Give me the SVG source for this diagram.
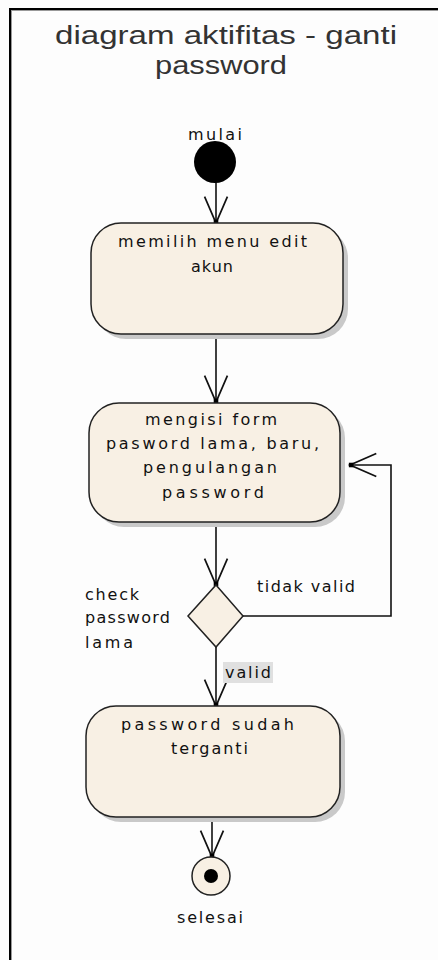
<svg xmlns="http://www.w3.org/2000/svg" width="438" height="960" viewBox="0 0 438 960">
<style>
.title{font-family:"Liberation Sans",Arial,sans-serif;font-size:25px;fill:#333;text-anchor:start}
.t{font-family:"DejaVu Sans","Liberation Sans",sans-serif;font-size:16px;fill:#111}
.box{fill:#f8f0e4;stroke:#222;stroke-width:1.5}
.shadow{fill:#c9c9c9}
.edge{fill:none;stroke:#111;stroke-width:1.6}
</style>
<defs>
<marker id="arr" markerUnits="userSpaceOnUse" markerWidth="40" markerHeight="40" refX="0" refY="0" viewBox="-30 -15 35 30" orient="auto" overflow="visible">
<path d="M-23,-10 L0,0 L-23,10" fill="none" stroke="#111" stroke-width="1.5"/>
<rect x="-3" y="-2" width="4" height="4" fill="#000"/>
</marker>
</defs>
<rect width="438" height="960" fill="#fdfdfd"/>
<g id="frame">
<line x1="9" y1="9" x2="438" y2="9" stroke="#000" stroke-width="2"/>
<line x1="9" y1="10.5" x2="438" y2="10.5" stroke="#999" stroke-width="1"/>
<line x1="10" y1="8" x2="10" y2="960" stroke="#000" stroke-width="2"/>
<line x1="11.5" y1="10" x2="11.5" y2="960" stroke="#999" stroke-width="1"/>
</g>
<g id="title">
<text class="title" x="55" y="44" textLength="342" lengthAdjust="spacingAndGlyphs">diagram aktifitas - ganti</text>
<text class="title" x="155" y="74" textLength="132" lengthAdjust="spacingAndGlyphs">password</text>
</g>
<g id="connectors">
<path class="edge" d="M216,182 V223" marker-end="url(#arr)"/>
<path class="edge" d="M216,334 V402" marker-end="url(#arr)"/>
<path class="edge" d="M216,522 V585" marker-end="url(#arr)"/>
<path class="edge" d="M243,616 H391 V465 H350" marker-end="url(#arr)"/>
<path class="edge" d="M216,647 V706" marker-end="url(#arr)"/>
<path class="edge" d="M212,817 V857" marker-end="url(#arr)"/>
<rect x="223" y="662" width="50" height="21" fill="#e0e0e0"/>
<text class="t" x="225" y="678" textLength="46" lengthAdjust="spacing">valid</text>
<text class="t" x="257" y="592" textLength="98" lengthAdjust="spacing">tidak valid</text>
</g>
<g id="mulai">
<text class="t" x="188" y="140" textLength="54" lengthAdjust="spacing">mulai</text>
<circle cx="215" cy="162" r="21" fill="#000"/>
</g>
<g id="memilih">
<rect class="shadow" x="96" y="228" width="252" height="111" rx="30"/>
<rect class="box" x="91" y="223" width="252" height="111" rx="30"/>
<text class="t" x="118" y="247" textLength="189" lengthAdjust="spacing">memilih menu edit</text>
<text class="t" x="191" y="272" textLength="42" lengthAdjust="spacing">akun</text>
</g>
<g id="mengisi">
<rect class="shadow" x="94" y="408" width="251" height="119" rx="30"/>
<rect class="box" x="89" y="403" width="251" height="119" rx="30"/>
<text class="t" x="145" y="425" textLength="132" lengthAdjust="spacing">mengisi form</text>
<text class="t" x="106" y="449" textLength="213" lengthAdjust="spacing">pasword lama, baru,</text>
<text class="t" x="143" y="473" textLength="134" lengthAdjust="spacing">pengulangan</text>
<text class="t" x="162" y="498" textLength="102" lengthAdjust="spacing">password</text>
</g>
<g id="check">
<path d="M216,585 L243,616 L216,647 L188,616 Z" fill="#f8f0e4" stroke="#222" stroke-width="1.5"/>
<text class="t" x="85" y="600" textLength="54" lengthAdjust="spacing">check</text>
<text class="t" x="85" y="623" textLength="85" lengthAdjust="spacing">password</text>
<text class="t" x="85" y="648" textLength="48" lengthAdjust="spacing">lama</text>
</g>
<g id="terganti">
<rect class="shadow" x="91" y="711" width="254" height="111" rx="30"/>
<rect class="box" x="86" y="706" width="254" height="111" rx="30"/>
<text class="t" x="121" y="730" textLength="173" lengthAdjust="spacing">password sudah</text>
<text class="t" x="171" y="754" textLength="77" lengthAdjust="spacing">terganti</text>
</g>
<g id="selesai">
<circle cx="211" cy="876" r="19" fill="#f8f0e4" stroke="#222" stroke-width="1.5"/>
<circle cx="211" cy="876" r="7" fill="#000"/>
<text class="t" x="177" y="923" textLength="66" lengthAdjust="spacing">selesai</text>
</g>
</svg>
